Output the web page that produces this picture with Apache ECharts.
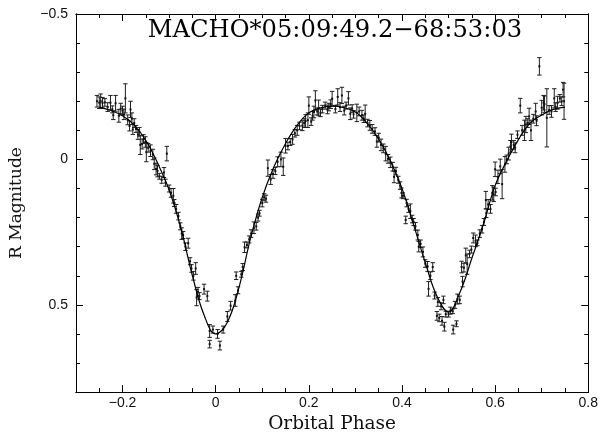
<!DOCTYPE html>
<html>
<head>
<meta charset="utf-8">
<script src="https://cdn.jsdelivr.net/npm/echarts@6/dist/echarts.min.js"></script>
<style>html,body{margin:0;padding:0;background:#fff}#c{width:601px;height:439px}</style>
</head>
<body>
<div id="c"></div>
<script>
// ---- data ----
const titleText = 'MACHO*05:09:49.2\u221268:53:03';
const xName = 'Orbital Phase';
const yName = 'R Magnitude';
const xMajorTicks = [-0.2, 0, 0.2, 0.4, 0.6, 0.8];
const xMinorTicks = [-0.25, -0.15, -0.1, -0.05, 0.05, 0.1, 0.15, 0.25, 0.3, 0.35, 0.45, 0.5, 0.55, 0.65, 0.7, 0.75];
const yMajorTicks = [-0.5, 0, 0.5];
const yMinorTicks = [-0.4, -0.3, -0.2, -0.1, 0.1, 0.2, 0.3, 0.4, 0.6, 0.7];

// model light curve
const modelPhase = [-0.25,-0.225,-0.2,-0.175,-0.15,-0.125,-0.1,-0.075,-0.05,-0.025,0,0.025,0.05,0.075,0.1,0.125,0.15,0.175,0.2,0.225,0.25,0.275,0.3,0.325,0.35,0.375,0.4,0.425,0.45,0.475,0.5,0.525,0.55,0.575,0.6,0.625,0.65,0.675,0.7,0.725,0.75];
const modelMag = [-0.180,-0.168,-0.150,-0.118,-0.065,0.012,0.105,0.235,0.400,0.535,0.600,0.560,0.440,0.270,0.130,0.025,-0.055,-0.118,-0.160,-0.177,-0.183,-0.178,-0.163,-0.125,-0.070,0.005,0.100,0.225,0.355,0.470,0.525,0.455,0.340,0.222,0.090,0.005,-0.068,-0.125,-0.153,-0.172,-0.180];

// observations: phase, R magnitude, error
const obsPhase = [-0.255,-0.250,-0.247,-0.243,-0.238,-0.232,-0.226,-0.222,-0.220,-0.215,-0.208,-0.204,-0.200,-0.197,-0.194,-0.189,-0.185,-0.183,-0.180,-0.178,-0.175,-0.171,-0.167,-0.164,-0.162,-0.158,-0.155,-0.151,-0.149,-0.145,-0.140,-0.135,-0.132,-0.128,-0.125,-0.121,-0.116,-0.111,-0.108,-0.105,-0.100,-0.096,-0.091,-0.089,-0.085,-0.080,-0.076,-0.073,-0.070,-0.065,-0.059,-0.055,-0.052,-0.048,-0.043,-0.041,-0.038,-0.035,-0.025,-0.018,-0.013,-0.013,-0.006,0.004,0.009,0.016,0.025,0.032,0.042,0.044,0.048,0.055,0.058,0.062,0.067,0.072,0.076,0.082,0.087,0.091,0.094,0.100,0.104,0.108,0.112,0.118,0.123,0.128,0.133,0.140,0.145,0.150,0.155,0.160,0.165,0.170,0.175,0.180,0.186,0.190,0.193,0.198,0.200,0.205,0.208,0.211,0.214,0.218,0.221,0.225,0.229,0.235,0.240,0.243,0.247,0.250,0.257,0.262,0.267,0.271,0.276,0.280,0.285,0.289,0.293,0.296,0.303,0.308,0.314,0.318,0.321,0.326,0.331,0.336,0.342,0.346,0.350,0.355,0.360,0.365,0.370,0.375,0.380,0.383,0.387,0.392,0.396,0.399,0.402,0.408,0.410,0.414,0.418,0.422,0.425,0.429,0.434,0.436,0.440,0.445,0.450,0.455,0.457,0.461,0.466,0.470,0.475,0.477,0.480,0.484,0.486,0.489,0.491,0.494,0.500,0.504,0.509,0.510,0.514,0.517,0.519,0.524,0.528,0.530,0.533,0.537,0.540,0.545,0.549,0.553,0.558,0.562,0.567,0.572,0.576,0.580,0.581,0.585,0.590,0.594,0.597,0.600,0.601,0.606,0.611,0.615,0.621,0.625,0.629,0.633,0.635,0.640,0.643,0.648,0.654,0.658,0.663,0.666,0.670,0.673,0.677,0.682,0.687,0.689,0.695,0.700,0.704,0.706,0.711,0.716,0.721,0.727,0.730,0.734,0.739,0.743,0.746,0.748];
const obsMag = [-0.200,-0.195,-0.200,-0.195,-0.196,-0.180,-0.195,-0.172,-0.152,-0.193,-0.150,-0.175,-0.168,-0.155,-0.210,-0.136,-0.115,-0.172,-0.140,-0.103,-0.125,-0.105,-0.086,-0.095,-0.050,-0.053,-0.070,-0.060,-0.025,-0.040,-0.030,-0.017,0.015,0.033,0.040,0.058,0.070,0.045,0.080,-0.020,0.100,0.115,0.125,0.150,0.170,0.195,0.230,0.255,0.260,0.300,0.288,0.350,0.375,0.400,0.375,0.475,0.455,0.470,0.446,0.470,0.590,0.635,0.585,0.600,0.640,0.585,0.540,0.503,0.485,0.400,0.450,0.395,0.370,0.302,0.294,0.275,0.255,0.235,0.230,0.200,0.185,0.150,0.130,0.135,0.030,0.069,0.050,0.040,0.008,0.000,0.025,-0.047,-0.046,-0.060,-0.069,-0.090,-0.100,-0.115,-0.116,-0.125,-0.132,-0.135,-0.185,-0.130,-0.150,-0.163,-0.203,-0.165,-0.177,-0.160,-0.173,-0.185,-0.172,-0.180,-0.190,-0.209,-0.173,-0.215,-0.180,-0.220,-0.168,-0.185,-0.210,-0.157,-0.175,-0.155,-0.160,-0.165,-0.152,-0.140,-0.157,-0.125,-0.117,-0.105,-0.096,-0.062,-0.075,-0.050,-0.038,-0.020,-0.002,0.010,0.025,0.060,0.040,0.070,0.090,0.115,0.125,0.208,0.150,0.170,0.178,0.205,0.215,0.230,0.260,0.300,0.290,0.318,0.358,0.368,0.445,0.400,0.370,0.468,0.538,0.490,0.545,0.505,0.555,0.483,0.575,0.532,0.532,0.520,0.522,0.585,0.500,0.565,0.480,0.483,0.370,0.420,0.372,0.330,0.360,0.325,0.310,0.270,0.280,0.287,0.255,0.240,0.215,0.140,0.185,0.155,0.170,0.115,0.120,0.034,0.112,0.060,0.024,0.085,0.017,0.000,-0.020,-0.045,-0.060,-0.050,-0.040,-0.085,-0.185,-0.100,-0.100,-0.120,-0.125,-0.148,-0.100,-0.140,-0.165,-0.133,-0.320,-0.178,-0.195,-0.190,-0.143,-0.170,-0.165,-0.210,-0.180,-0.195,-0.210,-0.200,-0.240,-0.200];
const obsErr = [0.020,0.020,0.025,0.018,0.013,0.015,0.025,0.012,0.015,0.027,0.022,0.018,0.015,0.018,0.050,0.017,0.017,0.028,0.020,0.017,0.015,0.012,0.017,0.015,0.033,0.017,0.015,0.018,0.033,0.015,0.020,0.018,0.020,0.020,0.020,0.010,0.012,0.017,0.012,0.025,0.012,0.015,0.025,0.012,0.015,0.013,0.012,0.020,0.012,0.013,0.017,0.012,0.013,0.015,0.020,0.028,0.015,0.012,0.017,0.017,0.022,0.013,0.012,0.015,0.015,0.012,0.017,0.015,0.020,0.013,0.012,0.010,0.012,0.018,0.010,0.012,0.013,0.020,0.013,0.012,0.010,0.013,0.012,0.012,0.028,0.017,0.015,0.012,0.017,0.025,0.030,0.025,0.013,0.012,0.017,0.013,0.017,0.013,0.017,0.015,0.022,0.025,0.030,0.013,0.015,0.020,0.033,0.012,0.027,0.013,0.013,0.012,0.015,0.013,0.015,0.025,0.013,0.028,0.015,0.028,0.015,0.012,0.023,0.020,0.013,0.013,0.030,0.015,0.017,0.013,0.030,0.013,0.017,0.015,0.013,0.020,0.015,0.020,0.015,0.025,0.015,0.018,0.015,0.020,0.013,0.012,0.013,0.017,0.010,0.013,0.013,0.012,0.025,0.013,0.012,0.013,0.017,0.018,0.013,0.017,0.013,0.017,0.025,0.013,0.015,0.012,0.015,0.015,0.013,0.012,0.015,0.013,0.015,0.010,0.010,0.012,0.008,0.015,0.012,0.010,0.017,0.013,0.020,0.018,0.015,0.025,0.035,0.013,0.012,0.017,0.020,0.010,0.013,0.013,0.012,0.030,0.015,0.017,0.015,0.025,0.025,0.025,0.013,0.023,0.025,0.050,0.027,0.015,0.022,0.020,0.027,0.015,0.017,0.013,0.025,0.017,0.035,0.028,0.015,0.028,0.035,0.015,0.028,0.017,0.030,0.025,0.025,0.028,0.100,0.015,0.020,0.033,0.015,0.022,0.013,0.015,0.025,0.062];

// ---- chart ----
const chart = echarts.init(document.getElementById('c'), null, {renderer: 'canvas'});
const fmt = v => (v < 0 ? '\u2212' + String(Math.abs(v)) : String(v));
const lblFont = {fontFamily: '"Liberation Sans", Arial, sans-serif', fontSize: 14, color: '#111'};
const axLine = {show: true, onZero: false, lineStyle: {color: '#000', width: 1}};

function xAx(pos, ticks, len, labels, name) {
  return {
    type: 'value', position: pos, min: -0.3, max: 0.8, gridIndex: 0,
    name: name || '', nameLocation: 'middle', nameGap: 20,
    nameTextStyle: {fontFamily: '"DejaVu Serif", serif', fontSize: 18.5, color: '#111'},
    axisLine: axLine, splitLine: {show: false},
    axisTick: {show: true, inside: true, length: len, customValues: ticks, lineStyle: {color: '#000', width: 1}},
    axisLabel: labels ? Object.assign({show: true, customValues: ticks, formatter: fmt, margin: 4}, lblFont) : {show: false}
  };
}
function yAx(pos, ticks, len, labels, name) {
  return {
    type: 'value', position: pos, min: -0.5, max: 0.8, inverse: true, gridIndex: 0,
    name: name || '', nameLocation: 'middle', nameGap: 51, nameRotate: 90,
    nameTextStyle: {fontFamily: '"DejaVu Serif", serif', fontSize: 17, color: '#111'},
    axisLine: axLine, splitLine: {show: false},
    axisTick: {show: true, inside: true, length: len, customValues: ticks, lineStyle: {color: '#000', width: 1}},
    axisLabel: labels ? Object.assign({show: true, customValues: ticks, formatter: fmt, margin: 8}, lblFont) : {show: false}
  };
}

const obsData = obsPhase.map((p, i) => [p, obsMag[i], obsErr[i]]);
const modelData = modelPhase.map((p, i) => [p, modelMag[i]]);

chart.setOption({
  animation: false,
  backgroundColor: '#fff',
  grid: {left: 74, right: 11, top: 14, bottom: 38, containLabel: false},
  xAxis: [
    xAx('bottom', xMajorTicks, 7, true, xName),
    xAx('bottom', xMinorTicks, 4, false),
    xAx('top', xMajorTicks, 7, false),
    xAx('top', xMinorTicks, 4, false)
  ],
  yAxis: [
    yAx('left', yMajorTicks, 7, true, yName),
    yAx('left', yMinorTicks, 4, false),
    yAx('right', yMajorTicks, 7, false),
    yAx('right', yMinorTicks, 4, false)
  ],
  graphic: [{
    type: 'text', x: 335, y: 31, z: 100,
    style: {text: titleText, font: '24.2px "DejaVu Serif", serif', fill: '#000', align: 'center', verticalAlign: 'middle'}
  }],
  series: [
    {
      type: 'custom', xAxisIndex: 0, yAxisIndex: 0, data: obsData,
      encode: {x: 0, y: 1}, z: 3,
      renderItem: function (params, api) {
        const x = api.value(0), y = api.value(1), e = api.value(2);
        const t = api.coord([x, y - e]);
        const b = api.coord([x, y + e]);
        const c = api.coord([x, y]);
        const w = 2.2;
        const st = {stroke: '#1e1e1e', lineWidth: 1};
        return {
          type: 'group',
          children: [
            {type: 'line', shape: {x1: t[0], y1: t[1], x2: b[0], y2: b[1]}, style: st},
            {type: 'line', shape: {x1: t[0] - w, y1: t[1], x2: t[0] + w, y2: t[1]}, style: st},
            {type: 'line', shape: {x1: b[0] - w, y1: b[1], x2: b[0] + w, y2: b[1]}, style: st},
            {type: 'rect', shape: {x: c[0] - 1, y: c[1] - 1, width: 2, height: 2}, style: {fill: '#111'}}
          ]
        };
      }
    },
    {
      type: 'line', xAxisIndex: 0, yAxisIndex: 0, data: modelData, smooth: 0.4,
      showSymbol: false, symbol: 'none', z: 4,
      lineStyle: {color: '#000', width: 1.2}
    }
  ]
});
</script>
</body>
</html>
